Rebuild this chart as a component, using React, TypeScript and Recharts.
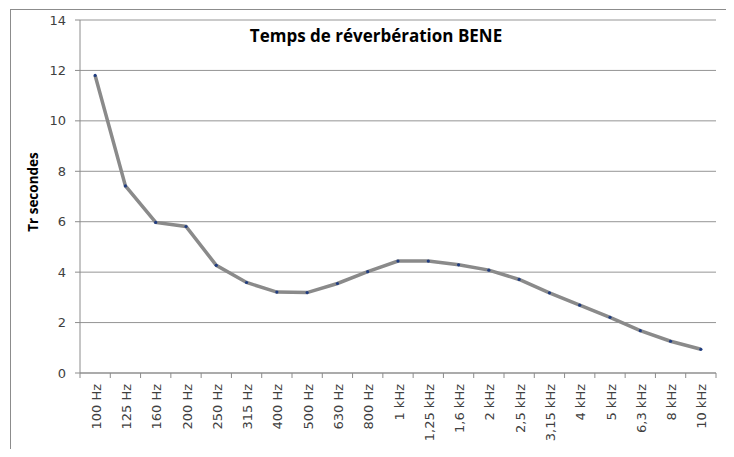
import { CartesianGrid, Line, LineChart, XAxis, YAxis } from "recharts";

const frequencies = [
  "100 Hz", "125 Hz", "160 Hz", "200 Hz", "250 Hz", "315 Hz", "400 Hz",
  "500 Hz", "630 Hz", "800 Hz", "1 kHz", "1,25 kHz", "1,6 kHz", "2 kHz",
  "2,5 kHz", "3,15 kHz", "4 kHz", "5 kHz", "6,3 kHz", "8 kHz", "10 kHz",
];
const trValues = [
  11.8, 7.42, 5.97, 5.81, 4.27, 3.59, 3.21, 3.19, 3.55, 4.02, 4.44,
  4.44, 4.29, 4.08, 3.71, 3.18, 2.69, 2.21, 1.68, 1.26, 0.94,
];
const yTicks = [0, 2, 4, 6, 8, 10, 12, 14];

const data = frequencies.map((f, i) => ({ freq: f, tr: trValues[i] }));

const W = 734;
const H = 457;
const PLOT_LEFT = 80;
const PLOT_RIGHT = 18;
const BAND = (W - PLOT_LEFT - PLOT_RIGHT) / frequencies.length;
const AXIS_GREY = "#8c8c8c";
const TEXT = "#404040";
const FONT = "'DejaVu Sans', Verdana, sans-serif";

function FreqTick(props: any) {
  const { x, y, payload, index } = props;
  const tx = x + 1;
  const ty = y + 11;
  return (
    <g>
      <line x1={x - BAND / 2} y1={y} x2={x - BAND / 2} y2={y + 5} stroke={AXIS_GREY} />
      {index === frequencies.length - 1 && (
        <line x1={x + BAND / 2} y1={y} x2={x + BAND / 2} y2={y + 5} stroke={AXIS_GREY} />
      )}
      <text
        x={tx}
        y={ty}
        transform={`rotate(-90, ${tx}, ${ty})`}
        textAnchor="end"
        dominantBaseline="central"
        fontSize={13}
        fontFamily={FONT}
        fill={TEXT}
      >
        {payload.value}
      </text>
    </g>
  );
}

export default function App() {
  return (
    <div
      style={{
        position: "relative",
        width: W,
        height: H,
        margin: -8,
        overflow: "hidden",
        background: "#fff",
      }}
    >
      <div
        style={{
          position: "absolute",
          left: 10,
          top: 9,
          width: 760,
          height: 480,
          border: `1px solid ${AXIS_GREY}`,
        }}
      />
      <div style={{ position: "absolute", left: 0, top: 0 }}>
        <LineChart
          width={W}
          height={H}
          data={data}
          margin={{ top: 20, right: PLOT_RIGHT, bottom: 0, left: 0 }}
        >
          <CartesianGrid vertical={false} stroke="#959595" />
          <XAxis
            dataKey="freq"
            scale="point"
            padding={{ left: BAND / 2, right: BAND / 2 }}
            interval={0}
            height={84}
            tickSize={0}
            tickMargin={0}
            tickLine={false}
            axisLine={{ stroke: AXIS_GREY }}
            tick={<FreqTick />}
          />
          <YAxis
            width={PLOT_LEFT}
            domain={[0, 14]}
            ticks={yTicks}
            interval={0}
            tickSize={5}
            tickMargin={9}
            axisLine={{ stroke: AXIS_GREY }}
            tickLine={{ stroke: AXIS_GREY }}
            tick={{ fontSize: 13, fontFamily: FONT, fill: TEXT }}
          />
          <Line
            type="linear"
            dataKey="tr"
            stroke="#8a8a8a"
            strokeWidth={3.5}
            dot={{ r: 1.6, fill: "#1f3c80", stroke: "none" }}
            activeDot={false}
            isAnimationActive={false}
          />
        </LineChart>
      </div>
      <div
        style={{
          position: "absolute",
          left: 226,
          top: 26.5,
          width: 300,
          textAlign: "center",
          fontFamily: "'Open Sans', sans-serif",
          fontWeight: 700,
          fontSize: 17,
          lineHeight: "17px",
          color: "#000",
          whiteSpace: "nowrap",
        }}
      >
        Temps de réverbération BENE
      </div>
      <div
        style={{
          position: "absolute",
          left: 33 - 60,
          top: 192 - 8,
          width: 120,
          height: 16,
          lineHeight: "16px",
          textAlign: "center",
          transform: "rotate(-90deg)",
          fontFamily: "'Open Sans', sans-serif",
          fontWeight: 700,
          fontSize: 13.5,
          color: "#000",
          whiteSpace: "nowrap",
        }}
      >
        Tr secondes
      </div>
    </div>
  );
}
